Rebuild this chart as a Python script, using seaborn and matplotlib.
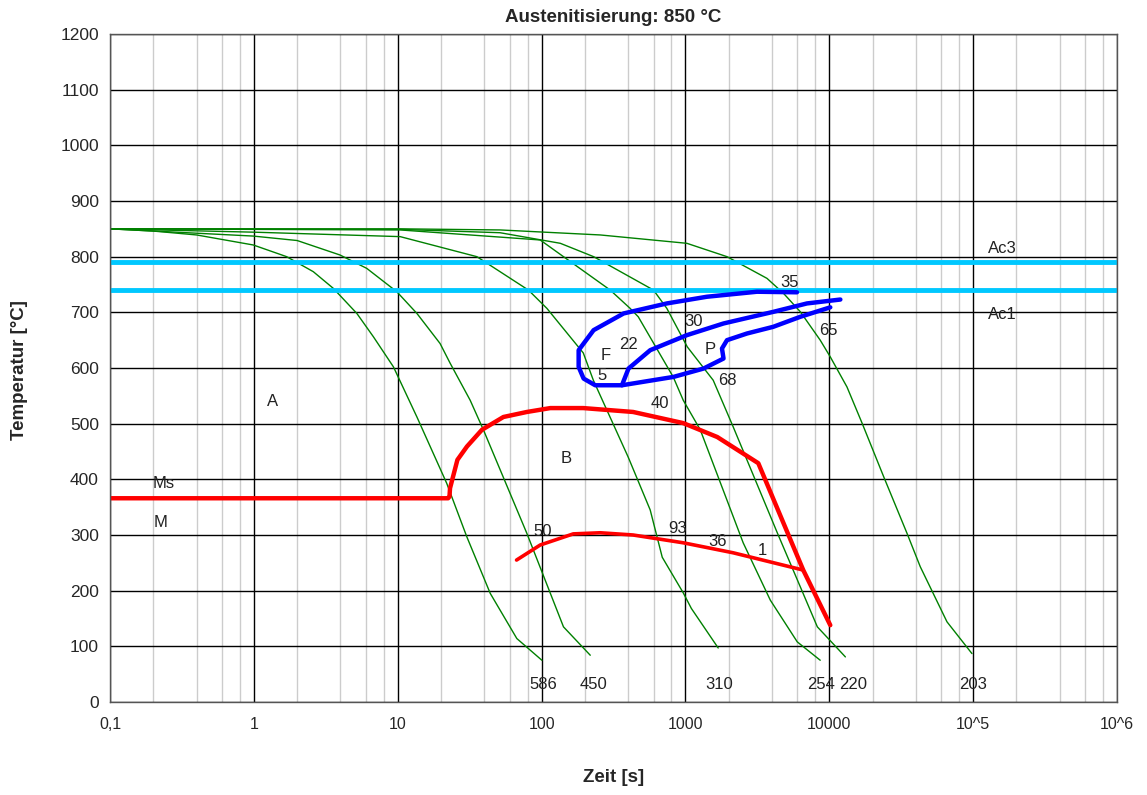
import numpy as np
import pandas as pd
import matplotlib
matplotlib.use("Agg")
import matplotlib.pyplot as plt
import seaborn as sns
from matplotlib.ticker import FixedLocator, NullFormatter

# ---- data ----
# cooling curves (time [s], temperature [C])
c1_t = [0.1, 0.2, 0.4, 0.99, 1.69, 2.59, 3.57, 5.2, 6.78, 9.34, 13.6, 21.9, 30.2, 44, 67.3, 100.5]
c1_T = [850, 846, 839, 821, 800, 773, 743, 698, 656, 602, 512, 393, 297, 195, 114, 75]
c2_t = [0.1, 0.99, 2.0, 3.97, 6.09, 9.86, 13.6, 19.7, 23.1, 31.9, 39.4, 79, 142, 218]
c2_T = [850, 837, 829, 803, 779, 737, 698, 644, 609, 542, 489, 303, 135, 84]
c3_t = [0.1, 1.0, 10.4, 35.5, 81, 109, 195, 229, 400, 569, 690, 966, 1100, 1690]
c3_T = [850, 844, 836, 800, 740, 707, 627, 578, 440, 345, 260, 196, 168, 97]
c4_t = [0.1, 10.4, 21.9, 97.8, 142, 300, 413, 470, 822, 966, 1268, 2520, 3890, 5990, 8650]
c4_T = [850, 848, 842, 830, 800, 740, 707, 692, 584, 542, 489, 286, 183, 108, 75]
c5_t = [0.1, 10.4, 51.5, 135, 230, 600, 743, 1030, 1560, 2150, 4350, 8260, 12940]
c5_T = [850, 849, 843, 824, 800, 740, 707, 638, 578, 494, 304, 135, 81]
c6_t = [0.1, 10.4, 51.5, 256, 1023, 1945, 3690, 4810, 6290, 8650, 10160, 13270, 16900,
        23860, 34700, 42900, 65800, 98100]
c6_T = [850, 850, 848, 839, 824, 800, 761, 734, 701, 650, 620, 566, 501,
        405, 303, 243, 144, 87]

# hardness values at curve ends
hardness = ["586", "450", "310", "254", "220", "203"]
hardness_t = [102, 228, 1718, 8790, 14680, 100000]

# Ms + bainite start
bs_t = [0.1, 22.4, 22.9, 23.1, 26, 30.3, 38.5, 54.3, 79, 115, 195, 433, 966, 1665, 3210, 6590, 10160]
bs_T = [366, 366, 369, 384, 435, 459, 489, 512, 521, 528, 528, 521, 501, 476, 429, 237, 138]
# lower bainite/martensite line
bf_t = [67, 97.8, 166, 256, 433, 966, 2150, 6590]
bf_T = [255, 282, 302, 304, 300, 286, 268, 237]

# ferrite / pearlite region
fs_t = [5960, 3140, 1410, 743, 372, 230, 181, 181, 196, 236, 362, 826, 1336, 1840, 1795,
        1945, 2680, 4080, 6290, 10160]
fs_T = [736, 737, 728, 716, 698, 668, 632, 602, 581, 569, 569, 584, 599, 617, 635,
        650, 662, 674, 692, 709]
ps_t = [362, 402, 569, 1023, 1840, 4100, 7000, 11940]
ps_T = [569, 599, 632, 659, 680, 701, 716, 723]

Ac3 = 790
Ac1 = 740

# phase fractions written on the chart
pct_text = ["35", "30", "65", "22", "5", "68", "40", "50", "93", "36", "1"]
pct_t = [5270, 1132, 9840, 400, 264, 1955, 668, 101, 877, 1664, 3420]
pct_T = [753, 683, 668, 643, 586, 578, 537, 307, 311, 289, 273]

region_text = ["A", "B", "F", "P", "Ms", "M", "Ac3", "Ac1"]
region_t = [1.34, 148, 281, 1486, 0.238, 0.223, 160000, 160000]
region_T = [539, 438, 623, 634, 392, 323, 815, 697]

x_ticks = [0.1, 1, 10, 100, 1000, 1e4, 1e5, 1e6]
x_ticklabels = ["0,1", "1", "10", "100", "1000", "10000", "10^5", "10^6"]

# ---- plot ----
sns.set_style("white")
plt.rcParams["font.family"] = ["Liberation Sans", "DejaVu Sans"]

fig = plt.figure(figsize=(11.47, 7.95), dpi=100)
ax = fig.add_axes([110 / 1147, 1 - 702 / 795, 1007 / 1147, 668 / 795])
ax.set_xscale("log")
ax.set_xlim(0.1, 1e6)
ax.set_ylim(0, 1200)

# grid: decades black, minor lines only at 2, 4, 6, 8
ax.xaxis.set_major_locator(FixedLocator(x_ticks))
minors = [m * 10.0 ** e for e in range(-1, 6) for m in (2, 4, 6, 8)]
ax.xaxis.set_minor_locator(FixedLocator(minors))
ax.xaxis.set_minor_formatter(NullFormatter())
ax.set_yticks(range(0, 1201, 100))
ax.grid(which="minor", axis="x", color="#cccccc", lw=1)
ax.grid(which="major", axis="both", color="black", lw=1)
ax.set_axisbelow(True)

curves = [(c1_t, c1_T), (c2_t, c2_T), (c3_t, c3_T), (c4_t, c4_T), (c5_t, c5_T), (c6_t, c6_T)]
for t, T in curves:
    sns.lineplot(x=t, y=T, ax=ax, color="green", lw=1, sort=False, estimator=None)

ax.axhline(Ac3, color="#00c8ff", lw=3.5)
ax.axhline(Ac1, color="#00c8ff", lw=3.5)

sns.lineplot(x=fs_t, y=fs_T, ax=ax, color="#0000ff", lw=3.2, sort=False, estimator=None)
sns.lineplot(x=ps_t, y=ps_T, ax=ax, color="#0000ff", lw=3.2, sort=False, estimator=None)
sns.lineplot(x=bs_t, y=bs_T, ax=ax, color="red", lw=3.2, sort=False, estimator=None)
sns.lineplot(x=bf_t, y=bf_T, ax=ax, color="red", lw=2.6, sort=False, estimator=None)

lbl_size = 12
for s, t in zip(hardness, hardness_t):
    ax.text(t, 32, s, ha="center", va="center", fontsize=lbl_size, color="#222222")
for s, t, T in zip(pct_text, pct_t, pct_T):
    ax.text(t, T, s, ha="center", va="center", fontsize=lbl_size, color="#222222")
for s, t, T in zip(region_text, region_t, region_T):
    ax.text(t, T, s, ha="center", va="center", fontsize=lbl_size, color="#222222")

ax.set_xticklabels(x_ticklabels)
ax.tick_params(axis="x", which="major", labelsize=11.5, length=5, color="#555555", pad=6)
ax.tick_params(axis="y", which="major", labelsize=12.5, length=5, color="#555555", pad=3)
ax.tick_params(axis="x", which="minor", length=0)
for sp in ax.spines.values():
    sp.set_color("#555555")
    sp.set_linewidth(1)

fig.text(613 / 1147, 1 - 17 / 795, "Austenitisierung: 850 °C", ha="center", va="center",
         fontsize=13.5, fontweight="bold")
fig.text(614 / 1147, 1 - 777 / 795, "Zeit [s]", ha="center", va="center",
         fontsize=13.5, fontweight="bold")
fig.text(20 / 1147, 1 - 370 / 795, "Temperatur [°C]", ha="center", va="center",
         rotation=90, fontsize=13.5, fontweight="bold")

fig.savefig("out.png", dpi=100)
